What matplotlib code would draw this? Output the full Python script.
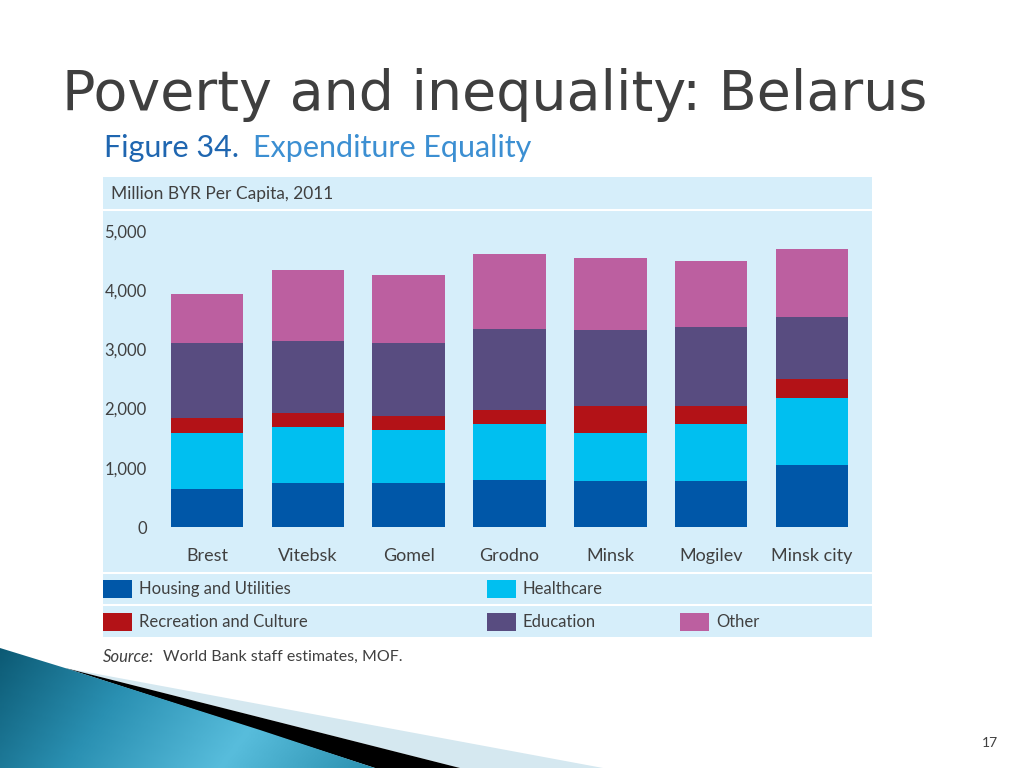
import numpy as np
import matplotlib.pyplot as plt
from matplotlib.patches import Rectangle, Polygon
from matplotlib.colors import LinearSegmentedColormap

# Data: Million BYR per capita, 2011
regions = ['Brest', 'Vitebsk', 'Gomel', 'Grodno', 'Minsk', 'Mogilev', 'Minsk city']
housing = [640, 740, 740, 790, 780, 780, 1050]
healthcare = [950, 950, 900, 950, 810, 960, 1130]
recreation = [250, 240, 240, 240, 460, 300, 320]
education = [1270, 1210, 1230, 1370, 1270, 1340, 1050]
other = [830, 1200, 1150, 1260, 1230, 1110, 1150]

series_names = ['Housing and Utilities', 'Healthcare', 'Recreation and Culture', 'Education', 'Other']
series_colors = ['#0057a8', '#00bff0', '#b31217', '#584c80', '#bc5fa0']
y_ticks = [0, 1000, 2000, 3000, 4000, 5000]

chart_font = ['Lato', 'DejaVu Sans']
text_grey = '#404040'
panel_bg = '#d6eefa'

fig = plt.figure(figsize=(10.24, 7.68), dpi=100)

# background layer in pixel coordinates
bg = fig.add_axes([0, 0, 1, 1])
bg.set_xlim(0, 1024)
bg.set_ylim(768, 0)
bg.axis('off')

# slide decoration bottom left
light = Polygon([(65, 668), (603, 768), (460, 768)], closed=True,
                facecolor='#d5e8f0', edgecolor='none')
bg.add_patch(light)
black = Polygon([(65, 668), (460, 768), (375, 768)], closed=True,
                facecolor='black', edgecolor='none')
bg.add_patch(black)
blue = Polygon([(0, 648), (65, 668), (260, 730), (375, 768), (0, 768)], closed=True,
               facecolor='none', edgecolor='none')
bg.add_patch(blue)
cmap = LinearSegmentedColormap.from_list('slide', ['#0b5872', '#2a90b2', '#58bddc', '#2a8fae'])
gx, gy = np.meshgrid(np.linspace(0, 1, 200), np.linspace(0, 1, 60))
grad = bg.imshow(gx * 0.8 + gy * 0.2, cmap=cmap, extent=(0, 380, 768, 640),
                 aspect='auto', zorder=1)
grad.set_clip_path(blue)

# titles
bg.text(62, 110, 'Poverty and inequality: Belarus', fontsize=40, color='#3f3f3f',
        family=['DejaVu Sans'], va='baseline', ha='left')
bg.text(104, 157, 'Figure 34.', fontsize=22, color='#1f66b0', family=chart_font,
        va='baseline', ha='left')
bg.text(253, 157, 'Expenditure Equality', fontsize=22, color='#3c8fd2', family=chart_font,
        va='baseline', ha='left')

# panel
bg.add_patch(Rectangle((103, 177), 769, 460, facecolor=panel_bg, edgecolor='none'))
for yl in [210, 573, 605]:
    bg.plot([103, 872], [yl, yl], color='white', lw=1.5)
bg.text(111, 194, 'Million BYR Per Capita, 2011', fontsize=12.5, color=text_grey,
        family=chart_font, va='center', ha='left')

# legend
legend_pos = [(103, 589), (487, 589), (103, 622), (487, 622), (680, 622)]
for (lx, ly), name, col in zip(legend_pos, series_names, series_colors):
    bg.add_patch(Rectangle((lx, ly - 9), 29, 18, facecolor=col, edgecolor='none'))
    bg.text(lx + 36, ly, name, fontsize=12, color=text_grey, family=chart_font,
            va='center', ha='left')

# source and page number
bg.text(103, 657, 'Source:', fontsize=12, color=text_grey, family=chart_font,
        style='italic', va='center', ha='left')
bg.text(163, 657, 'World Bank staff estimates, MOF.', fontsize=11.5, color=text_grey,
        family=chart_font, va='center', ha='left')
bg.text(998, 743, '17', fontsize=10, color=text_grey, family=chart_font,
        va='center', ha='right')

# chart
ax = fig.add_axes([0.1529, 0.3138, 0.6893, 0.3854])
ax.set_facecolor('none')
x = np.arange(len(regions))
bottom = np.zeros(len(regions))
for vals, col in zip([housing, healthcare, recreation, education, other], series_colors):
    ax.bar(x, vals, width=0.72, bottom=bottom, color=col, edgecolor='none')
    bottom += np.array(vals)

ax.set_xlim(-0.5, len(regions) - 0.5)
ax.set_ylim(0, 5000)
ax.set_yticks(y_ticks)
ax.set_yticklabels(['{:,}'.format(v) for v in y_ticks])
ax.set_xticks(x)
ax.set_xticklabels(regions)
ax.tick_params(axis='y', length=0, pad=7, labelsize=12, labelcolor=text_grey)
ax.tick_params(axis='x', length=0, pad=15, labelsize=13, labelcolor=text_grey)
for lab in ax.get_xticklabels() + ax.get_yticklabels():
    lab.set_family(chart_font)
for s in ax.spines.values():
    s.set_visible(False)

plt.savefig('out.png', dpi=100)
